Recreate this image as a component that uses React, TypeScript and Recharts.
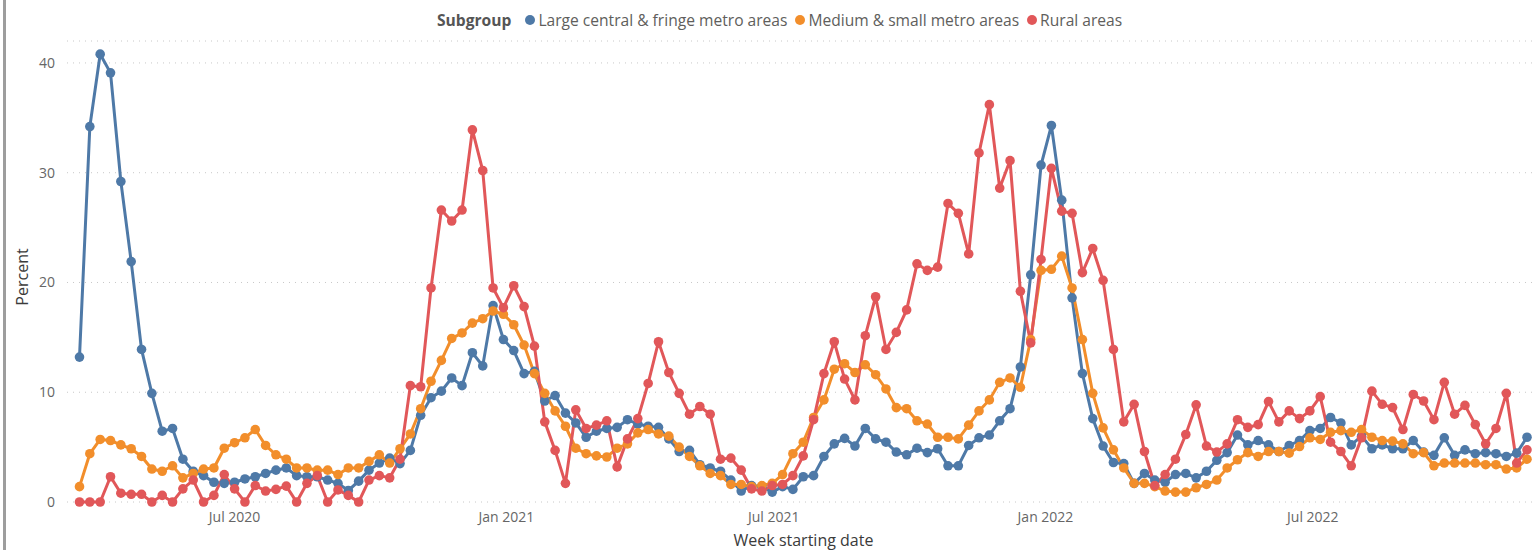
import React from 'react';
import { LineChart, Line, XAxis, YAxis, CartesianGrid } from 'recharts';

// Week starting dates: weekly series beginning on the first week shown
const FIRST_WEEK = Date.UTC(2020, 2, 18);
const WEEK_MS = 7 * 24 * 3600 * 1000;

const largeMetro = [
  13.2, 34.2, 40.8, 39.1, 29.2, 21.9, 13.9, 9.9, 6.45, 6.7,
  3.9, 2.8, 2.4, 1.8, 1.7, 1.8, 2.1, 2.3, 2.6, 2.9,
  3.1, 2.4, 2.3, 2.3, 2.0, 1.7, 1.05, 1.9, 2.9, 3.55,
  4.0, 3.5, 4.7, 7.9, 9.5, 10.1, 11.3, 10.6, 13.6, 12.4,
  17.9, 14.8, 13.8, 11.7, 11.9, 9.2, 9.7, 8.1, 7.2, 5.9,
  6.45, 6.7, 6.8, 7.5, 7.1, 6.9, 6.8, 5.75, 4.6, 4.7,
  3.4, 3.1, 2.8, 2.0, 1.0, 1.5, 1.4, 0.9, 1.4, 1.15,
  2.3, 2.4, 4.15, 5.3, 5.8, 5.1, 6.7, 5.75, 5.45, 4.55,
  4.3, 4.9, 4.5, 4.85, 3.3, 3.3, 5.15, 5.85, 6.1, 7.4,
  8.5, 12.3, 20.7, 30.7, 34.3, 27.5, 18.6, 11.7, 7.6, 5.1,
  3.6, 3.5, 1.7, 2.6, 2.0, 1.8, 2.5, 2.6, 2.2, 2.8,
  3.8, 4.5, 6.1, 5.2, 5.6, 5.2, 4.6, 5.15, 5.6, 6.5,
  6.7, 7.7, 7.2, 5.2, 6.0, 4.85, 5.2, 4.85, 4.85, 5.6,
  4.55, 4.25, 5.85, 4.25, 4.75, 4.4, 4.5, 4.4, 4.15, 4.45,
  5.9,
];

const mediumSmallMetro = [
  1.4, 4.4, 5.7, 5.6, 5.2, 4.85, 4.15, 3.0, 2.8, 3.3,
  2.2, 2.6, 3.0, 3.1, 4.9, 5.4, 5.85, 6.6, 5.15, 4.3,
  3.9, 3.1, 3.1, 2.9, 2.9, 2.5, 3.1, 3.1, 3.7, 4.3,
  3.55, 4.85, 6.2, 8.5, 11.0, 12.9, 14.9, 15.4, 16.3, 16.7,
  17.4, 17.1, 16.15, 14.3, 11.7, 9.9, 8.3, 6.9, 4.9, 4.4,
  4.2, 4.1, 4.9, 5.3, 6.3, 6.6, 6.2, 6.0, 5.0, 4.15,
  3.3, 2.6, 2.4, 1.6, 1.6, 1.4, 1.5, 1.7, 2.5, 4.4,
  5.45, 7.7, 9.3, 12.1, 12.6, 11.8, 12.5, 11.6, 10.3, 8.6,
  8.5, 7.4, 7.1, 5.9, 5.9, 5.75, 7.0, 8.3, 9.3, 10.9,
  11.3, 10.45, 14.8, 21.1, 21.2, 22.4, 19.5, 14.8, 9.9, 6.75,
  4.75, 3.1, 1.7, 1.7, 1.4, 1.0, 0.9, 0.9, 1.3, 1.6,
  2.0, 3.1, 3.85, 4.5, 4.15, 4.6, 4.6, 4.45, 5.05, 5.85,
  5.7, 6.35, 6.5, 6.35, 6.6, 5.9, 5.6, 5.55, 5.3, 4.4,
  4.5, 3.3, 3.55, 3.55, 3.55, 3.55, 3.4, 3.4, 3.0, 3.1,
  3.9,
];

const rural = [
  0, 0, 0, 2.3, 0.8, 0.7, 0.7, 0, 0.6, 0,
  1.2, 2.0, 0, 0.6, 2.5, 1.2, 0, 1.5, 1.0, 1.15,
  1.45, 0, 1.7, 2.4, 0, 1.1, 0.6, 0, 2.0, 2.4,
  2.2, 3.9, 10.6, 10.5, 19.5, 26.6, 25.6, 26.6, 33.9, 30.2,
  19.5, 17.7, 19.7, 17.8, 14.2, 7.3, 4.7, 1.7, 8.4, 6.7,
  7.0, 7.4, 3.2, 5.75, 7.6, 10.8, 14.6, 11.8, 9.9, 8.0,
  8.7, 8.0, 3.9, 4.0, 2.9, 1.2, 1.0, 1.5, 1.6, 2.4,
  4.2, 7.5, 11.7, 14.6, 11.2, 9.3, 15.15, 18.7, 13.9, 15.45,
  17.5, 21.7, 21.1, 21.4, 27.2, 26.3, 22.6, 31.8, 36.2, 28.6,
  31.1, 19.2, 14.5, 22.1, 30.4, 26.5, 26.3, 20.9, 23.1, 20.2,
  13.9, 7.3, 8.9, 4.6, 1.5, 2.5, 3.9, 6.15, 8.85, 5.1,
  4.55, 5.3, 7.5, 6.8, 7.05, 9.15, 7.3, 8.3, 7.6, 8.3,
  9.6, 5.45, 4.6, 3.3, 5.85, 10.1, 8.9, 8.6, 6.6, 9.8,
  9.2, 7.5, 10.9, 8.0, 8.8, 7.05, 5.3, 6.7, 9.9, 3.55,
  4.75,
];

const weekStarts = largeMetro.map((_, i) => FIRST_WEEK + i * WEEK_MS);

const xTicks = [
  Date.UTC(2020, 6, 1),
  Date.UTC(2021, 0, 1),
  Date.UTC(2021, 6, 1),
  Date.UTC(2022, 0, 1),
  Date.UTC(2022, 6, 1),
];
const xTickLabels = ['Jul 2020', 'Jan 2021', 'Jul 2021', 'Jan 2022', 'Jul 2022'];
const yTicks = [0, 10, 20, 30, 40];

const seriesNames = [
  'Large central & fringe metro areas',
  'Medium & small metro areas',
  'Rural areas',
];
const seriesKeys = ['large', 'medium', 'rural'];
const seriesColors = ['#4E79A7', '#F28E2B', '#E15759'];

const data = weekStarts.map((t, i) => ({
  t,
  large: largeMetro[i],
  medium: mediumSmallMetro[i],
  rural: rural[i],
}));

const FONT = "'Segoe UI', 'Open Sans', sans-serif";

const fmtX = (v: number) => {
  const idx = xTicks.indexOf(v);
  return idx >= 0 ? xTickLabels[idx] : '';
};

export default function App() {
  return (
    <div
      style={{
        position: 'fixed',
        left: 0,
        top: 0,
        width: 1532,
        height: 550,
        background: '#ffffff',
        fontFamily: FONT,
      }}
    >
      <div
        style={{
          position: 'absolute',
          left: 3,
          top: 0,
          width: 3,
          height: 550,
          background: '#9d9d9d',
        }}
      />
      <div
        style={{
          position: 'absolute',
          top: 10,
          left: 437,
          height: 20,
          display: 'flex',
          alignItems: 'center',
          fontSize: 15.6,
          lineHeight: '20px',
          whiteSpace: 'nowrap',
          color: '#605E5C',
        }}
      >
        <span style={{ fontWeight: 700, color: '#555555', marginRight: 14 }}>Subgroup</span>
        {seriesNames.map((name, i) => (
          <span key={name} style={{ display: 'flex', alignItems: 'center', marginRight: 8 }}>
            <span
              style={{
                display: 'inline-block',
                width: 10,
                height: 10,
                borderRadius: 5,
                background: seriesColors[i],
                marginRight: 3,
              }}
            />
            <span>{name}</span>
          </span>
        ))}
      </div>
      <LineChart
        width={1532}
        height={550}
        data={data}
        margin={{ top: 41, right: 0, bottom: 0, left: 0 }}
        style={{ fontFamily: FONT }}
      >
        <CartesianGrid
          vertical={false}
          stroke="#c8c8c8"
          strokeDasharray="1 5"
        />
        <XAxis
          dataKey="t"
          type="number"
          scale="linear"
          domain={[weekStarts[0], weekStarts[weekStarts.length - 1]]}
          ticks={xTicks}
          tickFormatter={fmtX}
          padding={{ left: 12.5, right: 5 }}
          height={48}
          tickLine={false}
          axisLine={false}
          tickSize={0}
          tickMargin={10}
          tick={{ fill: '#666666', fontSize: 14 }}
          interval={0}
          label={() => (
            <text
              x={803.5}
              y={546}
              textAnchor="middle"
              fill="#3b3b3b"
              fontSize={16}
              fontFamily={FONT}
            >
              Week starting date
            </text>
          )}
        />
        <YAxis
          type="number"
          domain={[0, 42]}
          ticks={yTicks}
          width={67}
          tickLine={false}
          axisLine={false}
          tickSize={6}
          tickMargin={6}
          tick={{ fill: '#666666', fontSize: 14 }}
          label={() => (
            <text
              x={22}
              y={277}
              transform="rotate(-90 22 277)"
              textAnchor="middle"
              dominantBaseline="central"
              fill="#3b3b3b"
              fontSize={16}
              fontFamily={FONT}
            >
              Percent
            </text>
          )}
        />
        {seriesKeys.map((k, i) => (
          <Line
            key={k}
            type="linear"
            dataKey={k}
            name={seriesNames[i]}
            stroke={seriesColors[i]}
            strokeWidth={3}
            dot={{ r: 4.8, fill: seriesColors[i], stroke: seriesColors[i], strokeWidth: 0 }}
            activeDot={false}
            isAnimationActive={false}
          />
        ))}
      </LineChart>
    </div>
  );
}
